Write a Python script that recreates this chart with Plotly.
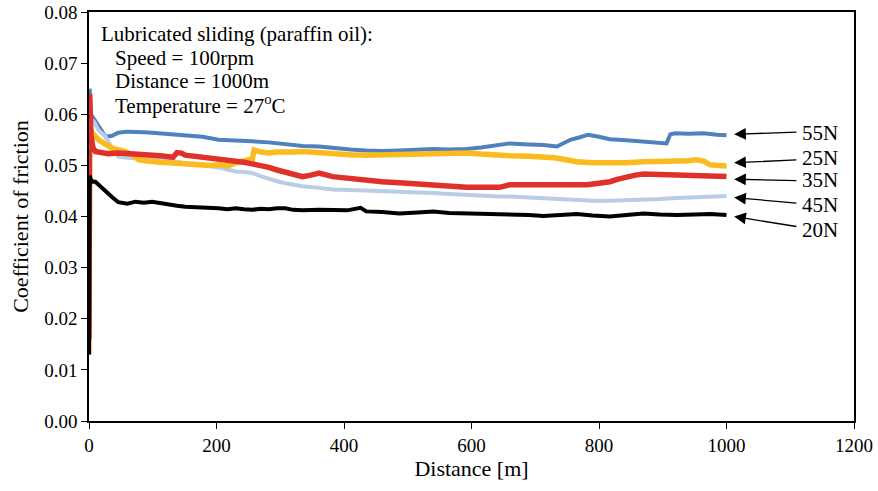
import plotly.graph_objects as go

# Coefficient of friction vs sliding distance, lubricated (paraffin oil)
d_55 = [0, 1, 3, 8, 15, 26, 36, 46, 60, 73, 86, 99, 125, 151, 178, 203, 230, 256, 282, 308,
        335, 361, 382, 410, 435, 460, 487, 515, 540, 565, 592, 615, 639, 660, 690, 713, 734,
        745, 755, 770, 783, 800, 817, 843, 870, 890, 906, 912, 920, 940, 964, 985, 1000]
cof_55 = [0.018, 0.065, 0.060, 0.059, 0.0575, 0.0556, 0.0558, 0.0564, 0.0566, 0.0566, 0.0565,
          0.0564, 0.0562, 0.0560, 0.0556, 0.0550, 0.0549, 0.0547, 0.0545, 0.0542, 0.0538,
          0.0537, 0.0534, 0.0531, 0.0529, 0.0528, 0.0529, 0.0531, 0.0532, 0.0531, 0.0532,
          0.0535, 0.0540, 0.0543, 0.0541, 0.0540, 0.0537, 0.0543, 0.0550, 0.0555, 0.0560,
          0.0556, 0.0551, 0.0549, 0.0547, 0.0545, 0.0543, 0.0561, 0.0563, 0.0562, 0.0563,
          0.0560, 0.0559]

d_25 = [0, 1, 4, 10, 15, 25, 36, 46, 57, 68, 78, 88, 99, 112, 125, 138, 151, 165, 178, 190,
        203, 217, 230, 243, 251, 256, 259, 270, 282, 295, 308, 320, 335, 361, 382, 410, 435,
        460, 487, 515, 540, 565, 592, 620, 644, 660, 690, 713, 730, 744, 755, 765, 790, 817,
        843, 870, 895, 922, 940, 953, 965, 974, 990, 1000]
cof_25 = [0.013, 0.058, 0.0565, 0.0556, 0.0550, 0.0542, 0.0534, 0.0530, 0.0527, 0.0520,
          0.0511, 0.0509, 0.0507, 0.0506, 0.0505, 0.0504, 0.0503, 0.0502, 0.0499, 0.0500,
          0.0501, 0.0499, 0.0505, 0.0510, 0.0511, 0.0512, 0.0530, 0.0526, 0.0524, 0.0526,
          0.0525, 0.0526, 0.0527, 0.0524, 0.0522, 0.0521, 0.0520, 0.0521, 0.0520, 0.0521,
          0.0522, 0.0523, 0.0524, 0.0522, 0.0519, 0.0519, 0.0518, 0.0517, 0.0515, 0.0512,
          0.0509, 0.0507, 0.0505, 0.0504, 0.0505, 0.0507, 0.0507, 0.0507, 0.0509, 0.0511,
          0.0508, 0.0501, 0.0500, 0.0499]

d_35 = [0, 1, 3, 6, 10, 19, 30, 46, 60, 73, 86, 99, 112, 125, 132, 138, 145, 151, 165, 178,
        190, 203, 217, 230, 243, 256, 269, 282, 295, 308, 320, 335, 348, 361, 382, 410, 435,
        460, 487, 515, 540, 565, 592, 620, 644, 660, 671, 690, 713, 740, 765, 781, 800, 817,
        830, 843, 857, 870, 895, 922, 950, 974, 1000]
cof_35 = [0.016, 0.064, 0.056, 0.0535, 0.0527, 0.0524, 0.0523, 0.0524, 0.0523, 0.0524, 0.0522,
          0.0520, 0.0519, 0.0517, 0.0516, 0.0525, 0.0524, 0.0520, 0.0518, 0.0517, 0.0514,
          0.0511, 0.0510, 0.0509, 0.0506, 0.0503, 0.0500, 0.0496, 0.0491, 0.0486, 0.0482,
          0.0478, 0.0481, 0.0485, 0.0478, 0.0474, 0.0470, 0.0468, 0.0466, 0.0463, 0.0460,
          0.0458, 0.0457, 0.0457, 0.0457, 0.0462, 0.0462, 0.0461, 0.0460, 0.0461, 0.0462,
          0.0462, 0.0465, 0.0468, 0.0473, 0.0478, 0.0481, 0.0483, 0.0482, 0.0481, 0.0480,
          0.0479, 0.0478]

d_45 = [0, 1, 3, 8, 15, 26, 36, 46, 60, 73, 86, 99, 112, 125, 138, 151, 165, 178, 190, 203,
        217, 230, 243, 256, 269, 282, 295, 308, 320, 335, 361, 382, 410, 435, 460, 487, 515,
        540, 565, 592, 620, 644, 660, 690, 713, 740, 765, 790, 817, 843, 870, 895, 922, 950,
        974, 1000]
cof_45 = [0.014, 0.060, 0.059, 0.0585, 0.0569, 0.0556, 0.0534, 0.0517, 0.0515, 0.0514, 0.0513,
          0.0512, 0.0510, 0.0509, 0.0507, 0.0504, 0.0503, 0.0501, 0.0499, 0.0496, 0.0492,
          0.0488, 0.0487, 0.0485, 0.0479, 0.0473, 0.0469, 0.0465, 0.0462, 0.0459, 0.0456,
          0.0453, 0.0452, 0.0451, 0.0450, 0.0449, 0.0448, 0.0446, 0.0444, 0.0442, 0.0441,
          0.0439, 0.0439, 0.0437, 0.0436, 0.0434, 0.0432, 0.0431, 0.0431, 0.0432, 0.0432,
          0.0434, 0.0436, 0.0437, 0.0438, 0.0440]

d_20 = [0, 1, 3, 6, 10, 15, 20, 26, 36, 46, 60, 73, 86, 99, 112, 125, 138, 151, 165, 178,
        190, 203, 217, 230, 243, 256, 269, 282, 295, 308, 320, 335, 361, 382, 405, 426, 435,
        460, 487, 515, 540, 565, 592, 620, 644, 660, 690, 713, 740, 765, 790, 817, 843, 870,
        895, 922, 950, 974, 1000]
cof_20 = [0.013, 0.048, 0.0472, 0.0468, 0.0468, 0.0462, 0.0455, 0.0449, 0.0438, 0.0428,
          0.0425, 0.0429, 0.0427, 0.0429, 0.0426, 0.0423, 0.0421, 0.0419, 0.0418, 0.0419,
          0.0417, 0.0416, 0.0414, 0.0416, 0.0414, 0.0413, 0.0415, 0.0414, 0.0416, 0.0416,
          0.0413, 0.0412, 0.0413, 0.0413, 0.0412, 0.0417, 0.0410, 0.0409, 0.0406, 0.0408,
          0.0410, 0.0407, 0.0406, 0.0406, 0.0406, 0.0405, 0.0403, 0.0401, 0.0403, 0.0405,
          0.0402, 0.0400, 0.0403, 0.0406, 0.0404, 0.0403, 0.0404, 0.0405, 0.0403]

# load labels with arrow tip, arrow tail and label position
load_labels = ["55N", "25N", "35N", "45N", "20N"]
tip_x = [1012, 1012, 1012, 1012, 1012]
tip_y = [0.0561, 0.0505, 0.0473, 0.0437, 0.0400]
tail_x = [1112, 1112, 1112, 1112, 1112]
tail_y = [0.0565, 0.0511, 0.0470, 0.0426, 0.0380]
label_y = [0.0564, 0.0515, 0.0471, 0.0422, 0.0374]

info_lines = ["Lubricated sliding (paraffin oil):", "Speed = 100rpm",
              "Distance = 1000m", "Temperature = 27<sup>o</sup>C"]

FONT = "Liberation Serif"

series = [
    (d_55, cof_55, "#4f81bd", 4.0),
    (d_45, cof_45, "#b9cde5", 4.0),
    (d_25, cof_25, "#fbbb1e", 5.5),
    (d_35, cof_35, "#e0302a", 5.5),
    (d_20, cof_20, "#000000", 4.0),
]

fig = go.Figure()
for xs, ys, col, w in series:
    fig.add_trace(go.Scatter(x=xs, y=ys, mode="lines",
                             line=dict(color=col, width=w), showlegend=False))

annotations = []
for lab, tx, ty, ax, ay, ly in zip(load_labels, tip_x, tip_y, tail_x, tail_y, label_y):
    annotations.append(dict(x=tx, y=ty, ax=ax, ay=ay, xref="x", yref="y",
                            axref="x", ayref="y", text="", showarrow=True,
                            arrowhead=2, arrowsize=1.8, arrowwidth=1.3,
                            arrowcolor="#000000"))
    annotations.append(dict(x=ax + 3, y=ly, xref="x", yref="y", text=lab,
                            showarrow=False, xanchor="left", yanchor="middle",
                            font=dict(family=FONT, size=21, color="#000000")))

line_y = [0.946, 0.888, 0.831, 0.775]
line_x = [0.0125, 0.032, 0.032, 0.032]
for txt, lx, ly in zip(info_lines, line_x, line_y):
    annotations.append(dict(x=lx, y=ly, xref="paper", yref="paper", text=txt,
                            showarrow=False, xanchor="left", yanchor="middle",
                            font=dict(family=FONT, size=21, color="#000000")))

axis_common = dict(showline=True, linecolor="#000000", linewidth=1.5, mirror=True,
                   ticks="outside", ticklen=6, tickwidth=1.2, tickcolor="#000000",
                   showgrid=False, zeroline=False, automargin=False,
                   tickfont=dict(family=FONT, size=19, color="#000000"))

fig.update_layout(
    width=878, height=491,
    margin=dict(l=89, r=24, t=12, b=70, autoexpand=False),
    font=dict(family=FONT, color="#000000"),
    paper_bgcolor="#ffffff", plot_bgcolor="#ffffff",
    showlegend=False,
    annotations=annotations,
    xaxis=dict(range=[0, 1200], dtick=200, tick0=0,
               title=dict(text="Distance [m]", standoff=6,
                          font=dict(family=FONT, size=22, color="#000000")),
               **axis_common),
    yaxis=dict(range=[0, 0.08], dtick=0.01, tick0=0, tickformat=".2f",
               title=dict(text="Coefficient of friction", standoff=10,
                          font=dict(family=FONT, size=22, color="#000000")),
               **axis_common),
)

fig.write_html("out.html")
